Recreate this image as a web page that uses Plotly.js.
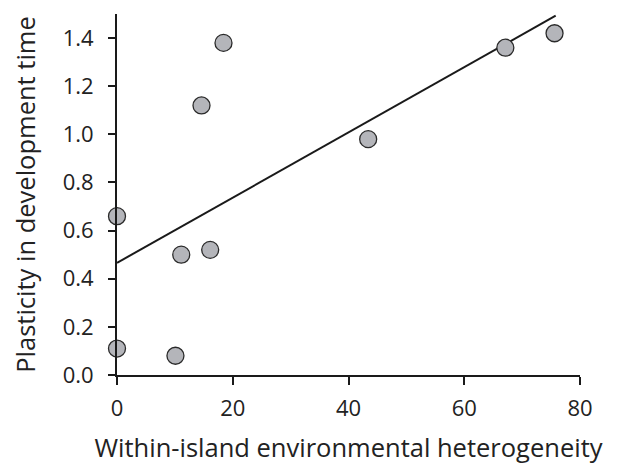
<!DOCTYPE html>
<html><head><meta charset="utf-8">
<script src="https://cdn.plot.ly/plotly-3.0.1.min.js"></script>
<style>html,body{margin:0;padding:0;background:#fff;}</style>
</head><body>
<div id="chart" style="width:617px;height:465px;"></div>
<script>
// Data
const heterogeneity = [0, 0, 10.1, 11.1, 16.1, 14.6, 18.4, 43.4, 67.1, 75.6];
const plasticity    = [0.66, 0.11, 0.08, 0.50, 0.52, 1.12, 1.38, 0.98, 1.36, 1.42];
const trendX = [0, 75.8];
const trendY = [0.466, 1.493];
const xTicks = [0, 20, 40, 60, 80];
const yTicks = [0.0, 0.2, 0.4, 0.6, 0.8, 1.0, 1.2, 1.4];

const font = "'Open Sans', sans-serif";
const traces = [
  {x: trendX, y: trendY, type: 'scatter', mode: 'lines',
   line: {color: '#1a1a1a', width: 2}, hoverinfo: 'skip', cliponaxis: false},
  {x: heterogeneity, y: plasticity, type: 'scatter', mode: 'markers',
   marker: {size: 17, color: '#b4b5ba', line: {color: '#2a2a2a', width: 1.3}},
   cliponaxis: false}
];
const layout = {
  width: 617, height: 465,
  margin: {l: 117, r: 37, t: 14, b: 90},
  paper_bgcolor: '#fff', plot_bgcolor: '#fff',
  showlegend: false,
  font: {family: font, color: '#222', size: 22},
  xaxis: {
    range: [0, 80], tickvals: xTicks, ticktext: xTicks.map(v => v.toFixed(0)),
    showline: true, linecolor: '#1a1a1a', linewidth: 2,
    ticks: 'outside', ticklen: 8, tickwidth: 2, tickcolor: '#1a1a1a',
    showgrid: false, zeroline: false, ticklabelstandoff: 5,
    tickfont: {size: 22, family: font, color: '#222'},
    title: {text: 'Within-island environmental heterogeneity', font: {size: 25.5, family: font, color: '#222'}, standoff: 18}
  },
  yaxis: {
    range: [0, 1.5], tickvals: yTicks, ticktext: yTicks.map(v => v.toFixed(1)),
    showline: true, linecolor: '#1a1a1a', linewidth: 2,
    ticks: 'outside', ticklen: 7, tickwidth: 2, tickcolor: '#1a1a1a',
    showgrid: false, zeroline: false, ticklabelstandoff: 10,
    tickfont: {size: 22, family: font, color: '#222'},
    title: {text: 'Plasticity in development time', font: {size: 25.5, family: font, color: '#222'}, standoff: 20}
  }
};
Plotly.newPlot('chart', traces, layout, {displayModeBar: false, staticPlot: true});
</script>
</body></html>
